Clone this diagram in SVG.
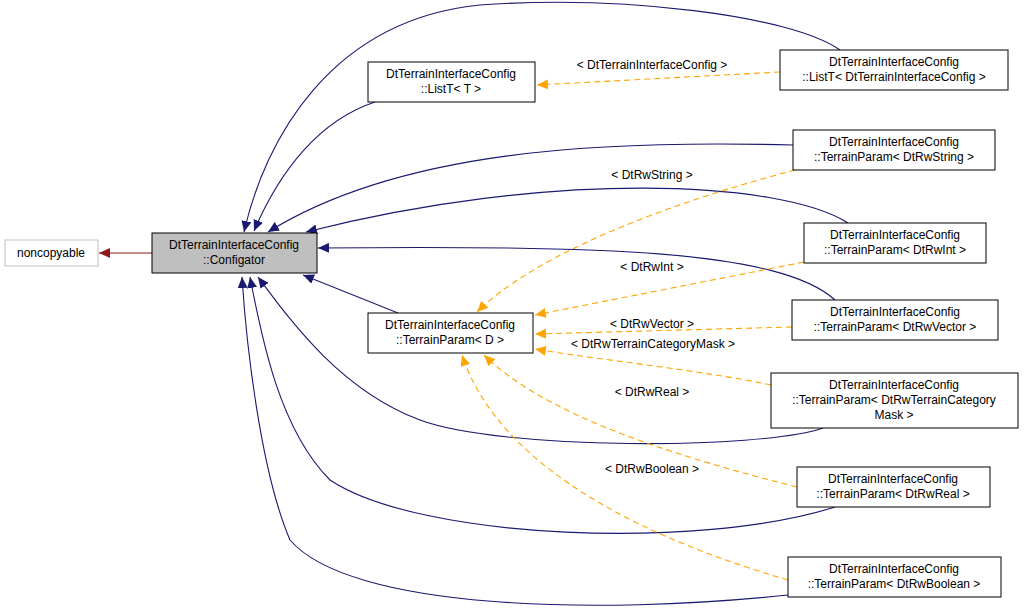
<svg xmlns="http://www.w3.org/2000/svg" width="1024" height="610" viewBox="0 0 1024 610">
<style>
text{font-family:"Liberation Sans",Arial,sans-serif;font-size:12px;text-anchor:middle;fill:#000}
.n{fill:#fff;stroke:#000;stroke-width:1}
.b{fill:none;stroke:#191970;stroke-width:1.1}
.o{fill:none;stroke:#ffa500;stroke-width:1.1;stroke-dasharray:6,4}
</style>
<defs>
<marker id="ab" markerWidth="12" markerHeight="10" refX="11" refY="5" orient="auto" markerUnits="userSpaceOnUse"><path d="M0,0 L11,5 L0,10 z" fill="#191970"/></marker>
<marker id="ao" markerWidth="12" markerHeight="10" refX="11" refY="5" orient="auto" markerUnits="userSpaceOnUse"><path d="M0,0 L11,5 L0,10 z" fill="#ffa500"/></marker>
<marker id="ar" markerWidth="12" markerHeight="10" refX="11" refY="5" orient="auto" markerUnits="userSpaceOnUse"><path d="M0,0 L11,5 L0,10 z" fill="#8b1a1a"/></marker>
</defs>
<rect width="1024" height="610" fill="#fff"/>
<g id="connectors">
<path d="M152,253 L99,253" fill="none" stroke="#8b1a1a" stroke-width="1.1" marker-end="url(#ar)"/>
<path class="b" d="M840,50 C790,15 620,-5 480,5 C330,20 265,140 244,232" marker-end="url(#ab)"/>
<path class="b" d="M375,102 C320,120 280,170 254,231" marker-end="url(#ab)"/>
<path class="b" d="M793,145 C600,140 400,150 268,232" marker-end="url(#ab)"/>
<path class="b" d="M848,223 C780,180 550,170 306,232" marker-end="url(#ab)"/>
<path class="b" d="M835,300 C780,250 600,245 318,248" marker-end="url(#ab)"/>
<path class="b" d="M398,313 L303,275" marker-end="url(#ab)"/>
<path class="b" d="M823,428 C760,450 500,450 420,420 C340,390 290,320 258,277" marker-end="url(#ab)"/>
<path class="b" d="M835,507 C700,550 420,540 330,480 C280,430 262,340 250,277" marker-end="url(#ab)"/>
<path class="b" d="M788,595 C600,615 350,610 290,540 C260,470 246,340 242,277" marker-end="url(#ab)"/>
<path class="o" d="M780,72 L537,85" marker-end="url(#ao)"/>
<path class="o" d="M795,170 C680,200 540,250 477,312" marker-end="url(#ao)"/>
<path class="o" d="M804,262 L535,315" marker-end="url(#ao)"/>
<path class="o" d="M792,327 L535,334" marker-end="url(#ao)"/>
<path class="o" d="M771,385 C700,370 600,360 535,349" marker-end="url(#ao)"/>
<path class="o" d="M797,487 C650,450 540,410 484,355" marker-end="url(#ao)"/>
<path class="o" d="M788,580 C650,540 500,470 462,355" marker-end="url(#ao)"/>
<text x="652" y="69">&lt; DtTerrainInterfaceConfig &gt;</text>
<text x="652" y="179">&lt; DtRwString &gt;</text>
<text x="652" y="271">&lt; DtRwInt &gt;</text>
<text x="652" y="328">&lt; DtRwVector &gt;</text>
<text x="653" y="348">&lt; DtRwTerrainCategoryMask &gt;</text>
<text x="652" y="396">&lt; DtRwReal &gt;</text>
<text x="652" y="473">&lt; DtRwBoolean &gt;</text>
</g>
<g id="noncopyable"><rect x="5" y="240" width="93" height="26" fill="#fff" stroke="#bfbfbf"/><text x="51" y="257">noncopyable</text></g>
<g id="configator"><rect x="152" y="233" width="165" height="40" fill="#bfbfbf" stroke="#000"/><text x="234" y="249">DtTerrainInterfaceConfig</text><text x="234" y="264">::Configator</text></g>
<g id="listT"><rect class="n" x="368" y="62" width="167" height="40"/><text x="451" y="78">DtTerrainInterfaceConfig</text><text x="451" y="93">::ListT&lt; T &gt;</text></g>
<g id="terrainParamD"><rect class="n" x="368" y="313" width="165" height="40"/><text x="450" y="329">DtTerrainInterfaceConfig</text><text x="450" y="344">::TerrainParam&lt; D &gt;</text></g>
<g id="listTConfig"><rect class="n" x="780" y="50" width="228" height="40"/><text x="894" y="66">DtTerrainInterfaceConfig</text><text x="894" y="81">::ListT&lt; DtTerrainInterfaceConfig &gt;</text></g>
<g id="tpString"><rect class="n" x="793" y="130" width="202" height="40"/><text x="894" y="146">DtTerrainInterfaceConfig</text><text x="894" y="161">::TerrainParam&lt; DtRwString &gt;</text></g>
<g id="tpInt"><rect class="n" x="804" y="223" width="182" height="40"/><text x="895" y="239">DtTerrainInterfaceConfig</text><text x="895" y="254">::TerrainParam&lt; DtRwInt &gt;</text></g>
<g id="tpVector"><rect class="n" x="792" y="300" width="206" height="40"/><text x="895" y="316">DtTerrainInterfaceConfig</text><text x="895" y="331">::TerrainParam&lt; DtRwVector &gt;</text></g>
<g id="tpMask"><rect class="n" x="771" y="373" width="247" height="55"/><text x="894" y="389">DtTerrainInterfaceConfig</text><text x="894" y="404">::TerrainParam&lt; DtRwTerrainCategory</text><text x="894" y="419">Mask &gt;</text></g>
<g id="tpReal"><rect class="n" x="797" y="467" width="193" height="40"/><text x="893" y="483">DtTerrainInterfaceConfig</text><text x="893" y="498">::TerrainParam&lt; DtRwReal &gt;</text></g>
<g id="tpBoolean"><rect class="n" x="788" y="557" width="213" height="40"/><text x="894" y="573">DtTerrainInterfaceConfig</text><text x="894" y="588">::TerrainParam&lt; DtRwBoolean &gt;</text></g>
</svg>
